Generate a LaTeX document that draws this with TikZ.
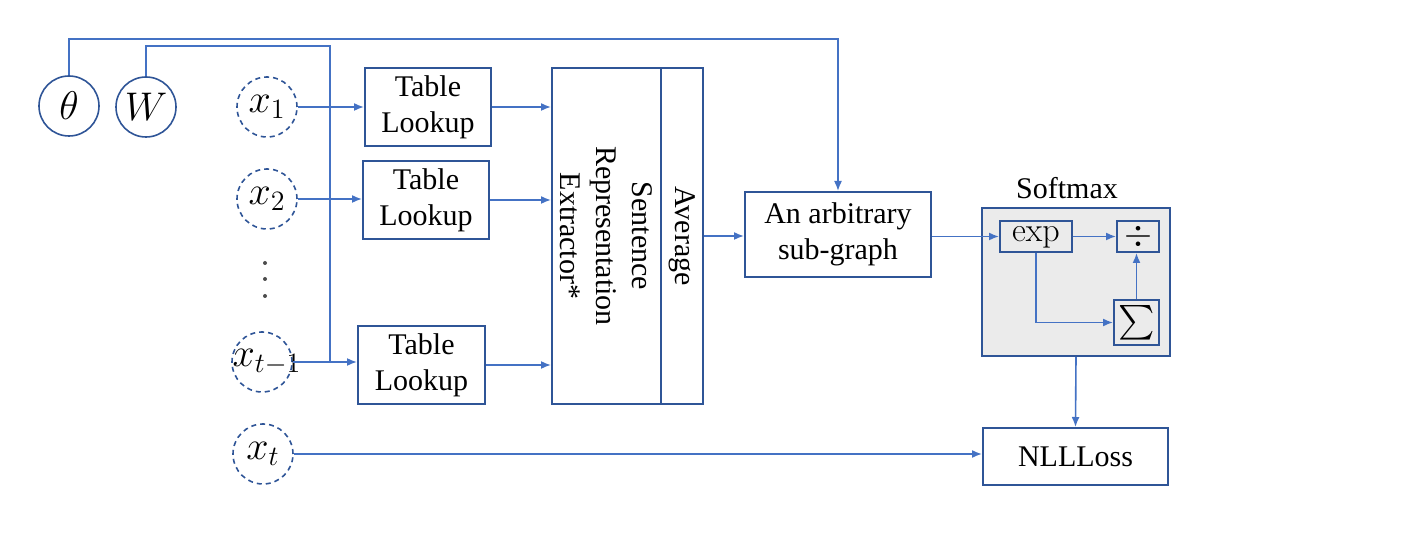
\RequirePackage{fix-cm}
\documentclass[tikz,border=0pt]{standalone}
\usepackage{amsmath}
\usepackage[no-math]{fontspec}
\setmainfont{Liberation Serif}
\usetikzlibrary{arrows.meta}
\definecolor{lineblue}{HTML}{4472C4}
\definecolor{boxblue}{HTML}{2F5597}
\definecolor{smxgray}{HTML}{EBEBEB}
\begin{document}
\begin{tikzpicture}[x=0.5pt,y=-0.5pt,
  conn/.style={draw=lineblue, line width=0.8pt},
  arr/.style={conn,-{Latex[length=5pt,width=4pt]}},
  txt/.style={font=\fontsize{15}{18}\selectfont, align=center, inner sep=0pt},
  box/.style={draw=boxblue, line width=1pt, inner sep=0pt, align=center, font=\fontsize{15}{18}\selectfont},
  mbox/.style={draw=boxblue, line width=1pt, inner sep=0pt, fill=smxgray},
  var/.style={circle, draw=boxblue, line width=0.8pt, minimum size=30pt, inner sep=0pt, font=\fontsize{20}{24}\selectfont},
  dvar/.style={var, dash pattern=on 2.5pt off 2pt},
  mtxt/.style={font=\fontsize{20}{24}\selectfont, inner sep=0pt}]
\useasboundingbox (0,0) rectangle (1404,534);
% variables
\node[var] (theta) at (69,106) {$\theta$};
\node[var] (W) at (146,107) {$W$};
\node[dvar] (x1) at (267,107) {$x_1$};
\node[dvar] (x2) at (267,199) {$x_2$};
\node[dvar] (xt1) at (262,362) {};
\node[mtxt] (xt1lab) at (267,362) {$x_{t-1}$};
\node[dvar] (xt) at (263,454) {$x_t$};
\fill[black!70] (265,263) circle (2) (265,279) circle (2) (265,296) circle (2);
% table lookups
\node[box, minimum width=63pt, minimum height=39pt] (tl1) at (428,107) {Table\\Lookup};
\node[box, minimum width=63pt, minimum height=39pt] (tl2) at (426,200) {Table\\Lookup};
\node[box, minimum width=63.5pt, minimum height=39pt] (tl3) at (421.5,365) {Table\\Lookup};
% sentence representation extractor and average
\node[box, minimum width=54.5pt, minimum height=168pt] (sre) at (606.5,236) {};
\node[txt, rotate=-90] (srelab) at (sre.center) {Sentence\\Representation\\Extractor*};
\node[box, minimum width=21pt, minimum height=168pt] (avg) at (682,236) {};
\node[txt, rotate=-90] (avglab) at (avg.center) {Average};
% arbitrary sub-graph
\node[box, minimum width=93pt, minimum height=42.5pt] (arb) at (838,234.5) {An arbitrary\\sub-graph};
% softmax
\node[box, fill=smxgray, minimum width=94pt, minimum height=74pt] (smx) at (1076,282) {};
\node[txt] (smxlab) at (1067,188) {Softmax};
\node[mbox, minimum width=36pt, minimum height=15.5pt, text height=8.5pt, text depth=3pt, font=\fontsize{17}{19}\selectfont] (exp) at (1036,236.5) {$\exp$};
\node[mbox, minimum width=21pt, minimum height=15.5pt, font=\fontsize{18}{20}\selectfont] (div) at (1138,236.5) {$\div$};
\node[mbox, minimum width=22.5pt, minimum height=22.5pt, font=\fontsize{16}{19}\selectfont] (sum) at (1136.5,322.5) {$\textstyle\sum$};
% loss
\node[box, minimum width=92.5pt, minimum height=28.5pt] (nll) at (1075.5,456.5) {NLLLoss};
% parameter lines
\coordinate (ttop) at (838,39);
\coordinate (wtop) at (330,46);
\coordinate (wbot) at (330,362);
\draw[arr] (theta.north) |- (ttop) -- (arb.north);
\draw[conn] (W.north) |- (wtop) -- (wbot);
% inputs
\draw[arr] (x1.east) -- (x1.east -| tl1.west);
\draw[arr] (x2.east) -- (x2.east -| tl2.west);
\draw[arr] (xt1.east) -- (xt1.east -| tl3.west);
\draw[arr] (tl1.east) -- (tl1.east -| sre.west);
\draw[arr] (tl2.east) -- (tl2.east -| sre.west);
\draw[arr] (tl3.east) -- (tl3.east -| sre.west);
\draw[arr] (avg.east) -- (avg.east -| arb.west);
\draw[arr] (exp.west -| arb.east) -- (exp.west);
\draw[arr] (exp.east) -- (div.west);
\draw[arr] (exp.south) |- (sum.west);
\draw[arr] (sum.north) -- (sum.north |- div.south);
\draw[arr] (smx.south) -- (nll.north);
\draw[arr] (xt.east) -- (xt.east -| nll.west);
\end{tikzpicture}
\end{document}
